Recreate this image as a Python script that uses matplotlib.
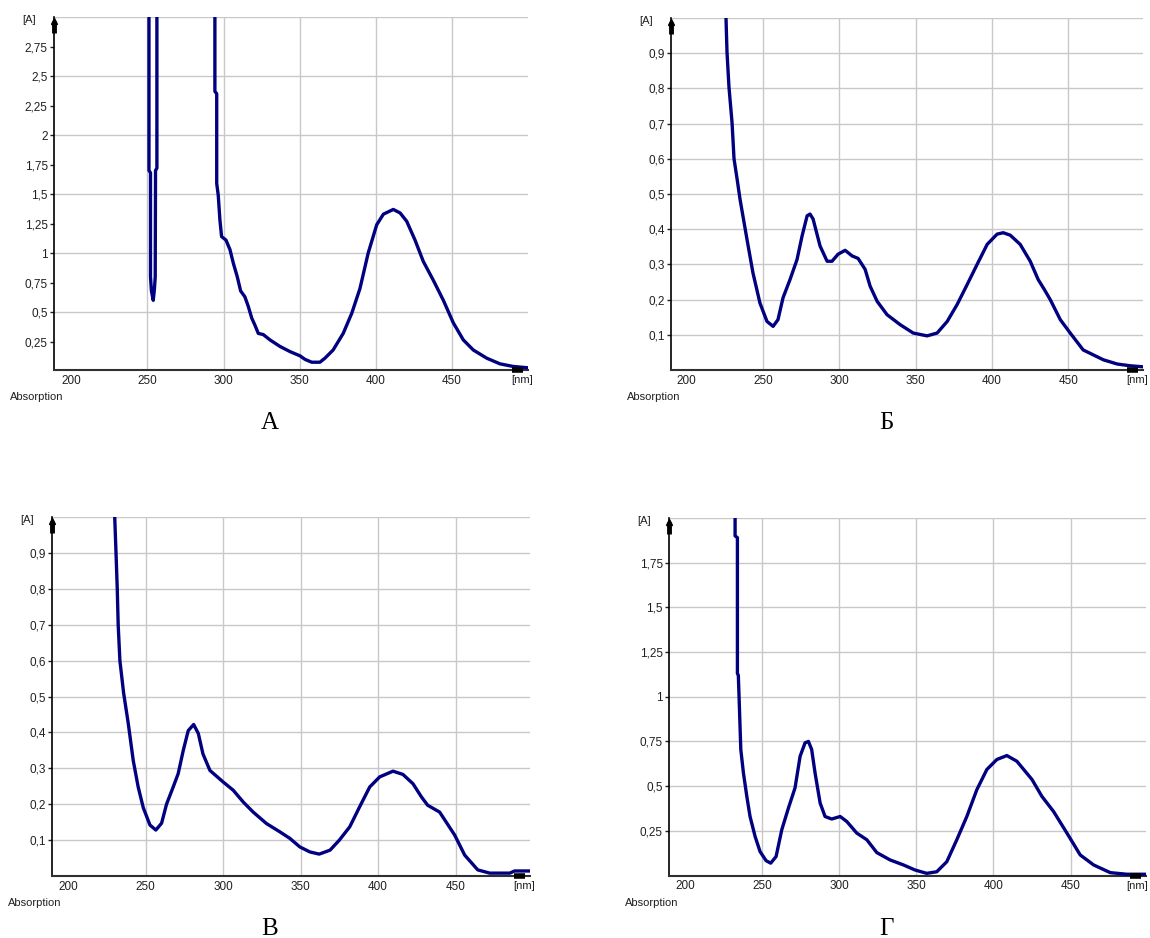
import numpy as np
import matplotlib.pyplot as plt

# спектры поглощения: длина волны, нм / оптическая плотность
wl_a = [251.0, 251.0, 252.0, 252.0, 252.6, 253.8, 254.6, 255.1, 255.3, 256.2, 256.2,
        294.3, 294.3, 295.5, 295.5, 296.5, 297.6, 298.7, 301.6, 304.2, 306.4, 309.0,
        311.2, 314.0, 316.2, 318.5, 320.6, 322.8, 326.1, 330.5, 337.0, 343.6, 350.2,
        353.5, 357.9, 363.3, 366.6, 372.0, 378.6, 384.2, 389.6, 395.0, 400.6, 405.0,
        411.5, 416.0, 420.3, 425.8, 431.2, 437.8, 444.4, 450.9, 457.5, 464.0, 472.9,
        481.6, 490.3, 499.0]
abs_a = [3.5, 1.70, 1.68, 0.80, 0.68, 0.60, 0.70, 0.80, 1.70, 1.72, 3.5,
         3.5, 2.37, 2.35, 1.59, 1.49, 1.28, 1.14, 1.11, 1.03, 0.915, 0.80,
         0.68, 0.63, 0.55, 0.45, 0.39, 0.32, 0.31, 0.265, 0.21, 0.166, 0.13,
         0.10, 0.076, 0.076, 0.11, 0.18, 0.32, 0.49, 0.70, 1.0, 1.24, 1.33,
         1.37, 1.34, 1.27, 1.11, 0.93, 0.77, 0.60, 0.41, 0.265, 0.18, 0.11,
         0.062, 0.04, 0.03]

wl_b = [225.4, 226.4, 227.7, 229.7, 231.0, 233.0, 234.9, 239.5, 243.4, 248.0, 252.6,
        256.6, 259.8, 263.1, 267.7, 272.3, 275.6, 278.9, 280.8, 282.8, 287.4, 292.0,
        295.2, 299.2, 303.8, 308.4, 312.3, 316.9, 320.2, 324.8, 331.3, 339.8, 348.4,
        357.5, 364.1, 370.7, 377.2, 383.8, 390.3, 396.9, 403.4, 407.4, 412.0, 418.5,
        425.1, 430.3, 434.3, 438.2, 444.8, 451.3, 459.8, 473.0, 482.1, 490.6, 499.2]
abs_b = [1.05, 0.903, 0.803, 0.703, 0.60, 0.543, 0.486, 0.371, 0.276, 0.19, 0.138,
         0.124, 0.143, 0.205, 0.257, 0.314, 0.381, 0.438, 0.443, 0.429, 0.352, 0.309,
         0.309, 0.329, 0.34, 0.324, 0.317, 0.286, 0.238, 0.195, 0.157, 0.129, 0.105,
         0.097, 0.105, 0.138, 0.186, 0.243, 0.30, 0.357, 0.386, 0.39, 0.383, 0.357,
         0.309, 0.257, 0.229, 0.2, 0.143, 0.105, 0.057, 0.029, 0.017, 0.012, 0.009]

wl_c = [229.9, 230.9, 231.7, 232.3, 233.4, 235.8, 238.8, 242.0, 245.2, 248.5, 252.8,
        256.6, 260.3, 263.5, 267.8, 271.0, 274.3, 277.5, 281.0, 284.0, 287.0, 291.5,
        300.0, 306.5, 313.0, 319.4, 328.0, 336.6, 343.0, 349.5, 356.0, 362.0, 369.0,
        375.0, 381.7, 388.0, 394.6, 401.0, 409.6, 416.0, 422.5, 428.0, 432.0, 439.7,
        449.4, 455.9, 464.3, 472.0, 485.0, 488.0, 497.8]
abs_c = [1.02, 0.9, 0.8, 0.7, 0.6, 0.51, 0.425, 0.322, 0.248, 0.19, 0.142,
         0.128, 0.147, 0.2, 0.248, 0.285, 0.35, 0.405, 0.422, 0.397, 0.34, 0.294,
         0.262, 0.239, 0.206, 0.178, 0.146, 0.123, 0.105, 0.081, 0.067, 0.061, 0.072,
         0.1, 0.137, 0.192, 0.248, 0.276, 0.292, 0.283, 0.257, 0.22, 0.197, 0.178,
         0.114, 0.058, 0.017, 0.008, 0.008, 0.014, 0.014]

wl_d = [232.3, 232.3, 233.8, 233.8, 234.4, 235.0, 236.0, 237.7, 239.9, 242.0, 245.3,
        248.5, 252.4, 255.4, 258.9, 262.6, 266.9, 271.2, 274.5, 277.7, 279.9, 282.0,
        284.2, 287.5, 290.7, 295.0, 300.5, 304.8, 311.3, 317.8, 324.3, 332.9, 341.6,
        349.0, 356.7, 363.2, 369.7, 376.2, 382.7, 389.2, 395.7, 402.2, 408.7, 415.2,
        425.0, 431.4, 439.0, 447.7, 456.3, 465.0, 475.8, 486.6, 498.5]
abs_d = [2.05, 1.90, 1.89, 1.13, 1.12, 0.967, 0.705, 0.574, 0.443, 0.33, 0.218,
         0.134, 0.083, 0.069, 0.106, 0.256, 0.377, 0.49, 0.667, 0.742, 0.75, 0.705,
         0.574, 0.405, 0.33, 0.316, 0.33, 0.302, 0.237, 0.2, 0.128, 0.087, 0.059,
         0.031, 0.012, 0.021, 0.077, 0.2, 0.33, 0.48, 0.593, 0.649, 0.671, 0.639,
         0.537, 0.443, 0.358, 0.237, 0.115, 0.059, 0.016, 0.007, 0.007]

x_ticks = [200, 250, 300, 350, 400, 450]
x_grid = [250, 300, 350, 400, 450]
yt_a = [0.25, 0.5, 0.75, 1, 1.25, 1.5, 1.75, 2, 2.25, 2.5, 2.75]
yg_a = [0.5, 1, 1.5, 2, 2.5, 3.0]
yt_b = [0.1, 0.2, 0.3, 0.4, 0.5, 0.6, 0.7, 0.8, 0.9]
yg_b = yt_b + [1.0]
yt_d = [0.25, 0.5, 0.75, 1, 1.25, 1.5, 1.75]
yg_d = yt_d + [2.0]
letters = ['А', 'Б', 'В', 'Г']

plt.rcParams['font.family'] = ['Liberation Sans', 'DejaVu Sans']

W, H = 1150, 938
fig = plt.figure(figsize=(W / 100, H / 100), dpi=100)

def ftxt(x, y, s, **kw):
    fig.text(x / W, 1 - y / H, s, **kw)

def fmt(v):
    return ('%g' % v).replace('.', ',')

# панели: данные, рамка осей в пикселях (лево, верх, право, низ), пределы
panels = [
    (wl_a, abs_a, (54, 17, 528, 370), (188.6, 500), (0.01, 3.0), yt_a, yg_a),
    (wl_b, abs_b, (671, 18, 1143, 370), (189.7, 499), (0, 1.0), yt_b, yg_b),
    (wl_c, abs_c, (52, 517, 530, 876), (189.6, 498), (0, 1.0), yt_b, yg_b),
    (wl_d, abs_d, (669, 518, 1146, 875.5), (189.4, 499), (0, 2.0), yt_d, yg_d),
]

for i, (wl, ab, box, xl, yl, yt, yg) in enumerate(panels):
    l, t, r, b = box
    ax = fig.add_axes([l / W, 1 - b / H, (r - l) / W, (b - t) / H])
    for v in x_grid:
        ax.axvline(v, color='#c8c8c8', lw=1.0, zorder=0)
    for v in yg:
        ax.axhline(v, color='#c8c8c8', lw=1.0, zorder=0)
    ax.plot(wl, ab, color='#000080', lw=2.4, solid_joinstyle='round', zorder=3)
    ax.set_xlim(xl)
    ax.set_ylim(yl)
    ax.set_xticks(x_ticks)
    ax.set_yticks(yt)
    ax.set_yticklabels([fmt(v) for v in yt])
    ax.tick_params(axis='x', length=0, pad=3.5, labelsize=8.5, colors='#202020')
    ax.tick_params(axis='y', length=3, width=1, pad=1.5, labelsize=8.5, colors='#202020')
    for s in ['top', 'right']:
        ax.spines[s].set_visible(False)
    ax.spines['left'].set_color('black')
    ax.spines['left'].set_linewidth(1.2)
    ax.spines['bottom'].set_color('#303030')
    ax.spines['bottom'].set_linewidth(1.5)
    ax.set_facecolor('white')

    # стрелки осей
    ax.plot([0, 0], [0.955, 0.99], transform=ax.transAxes, color='black',
            lw=3.5, solid_capstyle='butt', clip_on=False, zorder=5)
    ax.plot([0], [0.99], transform=ax.transAxes, marker='^', ms=4,
            color='black', clip_on=False, zorder=5)
    x0 = (r - 16 - l) / (r - l)
    x1 = (r - 5 - l) / (r - l)
    ax.plot([x0, x1], [0, 0], transform=ax.transAxes, color='black',
            lw=4, solid_capstyle='butt', clip_on=False, zorder=5)

    ftxt(l - 32, t + 3, '[A]', fontsize=8, ha='left', va='center', color='#202020')
    ftxt(min(r + 5, W - 2), b + 10, '[nm]', fontsize=8, ha='right', va='center',
         color='#202020')
    ftxt(l - 44, b + 27, 'Absorption', fontsize=8, ha='left', va='center', color='#202020')
    ftxt((l + r) / 2 - 21, b + 53, letters[i], family='Liberation Serif',
         fontsize=18, ha='center', va='center')

plt.savefig('out.png', dpi=100)
